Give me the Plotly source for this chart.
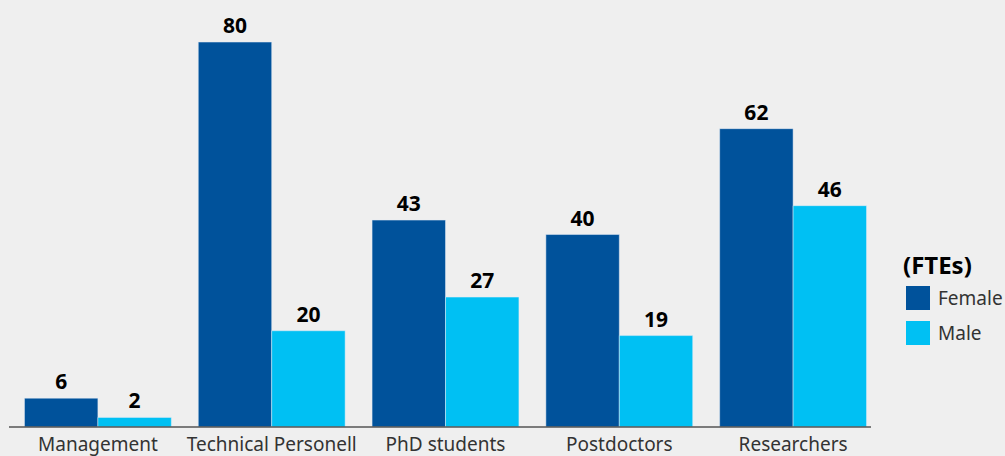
import plotly.graph_objects as go

categories = ["Management", "Technical Personell", "PhD students", "Postdoctors", "Researchers"]
female = [6, 80, 43, 40, 62]
male = [2, 20, 27, 19, 46]
series_names = ["Female", "Male"]
series_colors = ["#00529B", "#00C0F3"]
legend_title = "(FTEs)"

BG = "#EFEFEF"
W, H = 1005, 456
L, R, T, B = 11, 125, 18, 29
PW, PH = W - L - R, H - T - B

def px_x(x):
    return (x - L) / PW

def px_y(y):
    return (H - B - y) / PH

fig = go.Figure()
for name, vals, col in zip(series_names, [female, male], series_colors):
    fig.add_trace(go.Bar(
        x=categories, y=vals, name=name, marker_color=col,
        text=vals, textposition="outside", cliponaxis=False,
        textfont=dict(size=21, color="#000000", family="Noto Sans"),
        texttemplate="<b>%{text}</b>", showlegend=False,
    ))

shapes = [dict(type="line", xref="paper", yref="paper",
               x0=px_x(9), x1=px_x(871), y0=0, y1=0,
               line=dict(color="#555555", width=1.6))]
annotations = [dict(xref="paper", yref="paper", x=px_x(901), y=px_y(264),
                    xanchor="left", yanchor="middle", showarrow=False,
                    text="<b>" + legend_title + "</b>",
                    font=dict(size=24, color="#000000", family="Noto Sans"))]
for i, (name, col) in enumerate(zip(series_names, series_colors)):
    cy = 298 + 35 * i
    shapes.append(dict(type="rect", xref="paper", yref="paper",
                       x0=px_x(906), x1=px_x(930), y0=px_y(cy - 12), y1=px_y(cy + 12),
                       fillcolor=col, line=dict(width=0)))
    annotations.append(dict(xref="paper", yref="paper", x=px_x(936), y=px_y(cy),
                            xanchor="left", yanchor="middle", showarrow=False,
                            text=name, font=dict(size=19, color="#333333", family="Noto Sans")))

fig.update_layout(
    width=W, height=H,
    paper_bgcolor=BG, plot_bgcolor=BG,
    margin=dict(l=L, r=R, t=T, b=B, pad=0, autoexpand=False),
    barmode="group", bargap=0.155, bargroupgap=0,
    font=dict(family="Noto Sans", color="#333333"),
    showlegend=False,
    xaxis=dict(showline=False, tickfont=dict(size=19, color="#333333"),
               ticks="", showgrid=False, zeroline=False, automargin=False,
               ticklabelstandoff=4),
    yaxis=dict(range=[0, 85], visible=False, showgrid=False, automargin=False),
    shapes=shapes, annotations=annotations,
    uniformtext=dict(minsize=8, mode="show"),
)
fig.write_html("out.html", config={"displayModeBar": False},
               post_script="document.body.style.margin='0';document.body.style.background='#EFEFEF';")
